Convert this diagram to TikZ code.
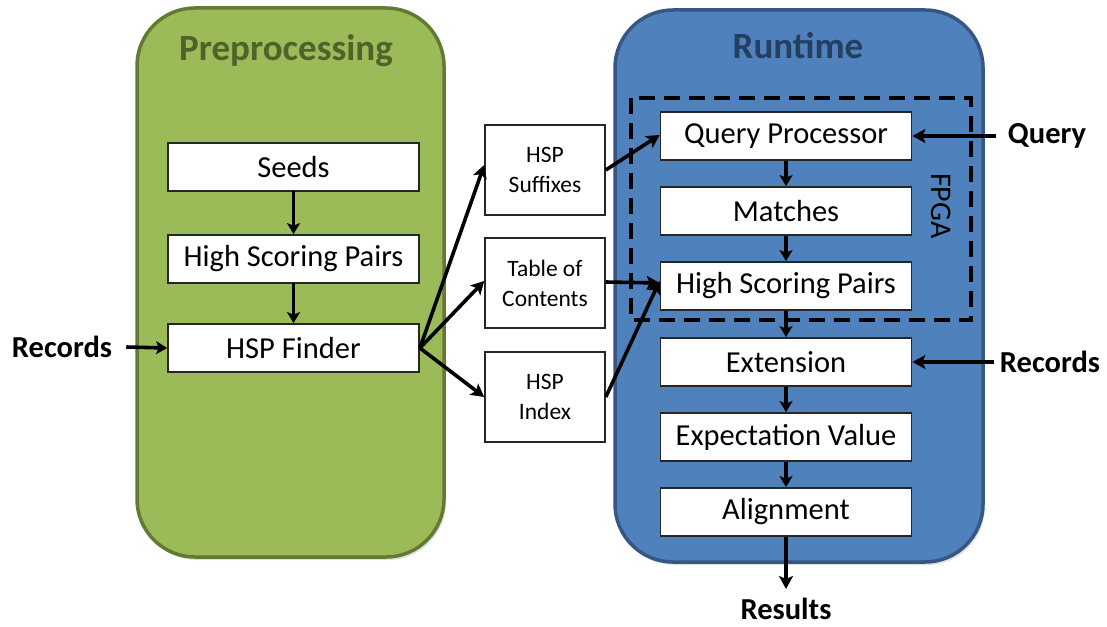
\documentclass[tikz,border=0pt]{standalone}
\usepackage{fontspec}
\setmainfont{Carlito}
\usetikzlibrary{arrows.meta,shadows}
\definecolor{grfill}{HTML}{9BBB59}
\definecolor{grline}{HTML}{637A33}
\definecolor{grtext}{HTML}{4F6228}
\definecolor{blfill}{HTML}{4F81BD}
\definecolor{blline}{HTML}{345783}
\definecolor{bltext}{HTML}{243F60}
\tikzset{
  panel/.style={rounded corners=58pt, line width=3.5pt},
  stagebox/.style={draw=black!85, fill=white, line width=1.8pt, minimum width=251pt, minimum height=48pt, inner sep=0pt, font=\fontsize{30.5}{34}\selectfont},
  databox/.style={draw=black!85, fill=white, line width=1.6pt, minimum width=120pt, minimum height=90pt, inner sep=0pt, align=center, font=\fontsize{23.5}{30}\selectfont},
  lbl/.style={font=\fontsize{30.5}{34}\selectfont\bfseries, inner sep=0pt},
  ttl/.style={font=\fontsize{37}{40}\selectfont\bfseries, inner sep=0pt},
  arr/.style={line width=3.6pt, -{Stealth[length=13pt,width=14pt,inset=3pt]}},
  sarr/.style={line width=3.6pt, -{Stealth[length=11pt,width=13pt,inset=2.5pt]}},
}
\begin{document}
\begin{tikzpicture}[x=1pt,y=-1pt]
\useasboundingbox (0,0) rectangle (1107,626);
% panels
\draw[panel, draw=grline, fill=grfill, drop shadow={opacity=0.25,shadow xshift=2pt,shadow yshift=-3pt}] (137,8) rectangle (444,557);
\draw[panel, draw=blline, fill=blfill, drop shadow={opacity=0.25,shadow xshift=2pt,shadow yshift=-3pt}] (615,10) rectangle (983,562);
\node[ttl, text=grtext] (tpre) at (286,51) {Preprocessing};
\node[ttl, text=bltext] (trun) at (798,46) {Runtime};
% FPGA dashed region
\draw[line width=4pt, dash pattern=on 16pt off 9pt] (631,98) rectangle (971,320);
\node[font=\fontsize{30}{34}\selectfont, rotate=-90, inner sep=0pt] (fpga) at (941,206) {FPGA};
% left stages
\node[stagebox] (seeds) at (293.5,167) {Seeds};
\node[stagebox] (hspl) at (293.5,259) {High Scoring Pairs};
\node[stagebox] (finder) at (293.5,348) {HSP Finder};
% data boxes
\node[databox] (suf) at (545,170) {HSP\\Suffixes};
\node[databox] (toc) at (545,283) {Table of\\Contents};
\node[databox] (idx) at (545,397) {HSP\\Index};
% right stages
\node[stagebox] (qp) at (786,136) {Query Processor};
\node[stagebox] (mat) at (786,211) {Matches};
\node[stagebox] (hspr) at (786,286) {High Scoring Pairs};
\node[stagebox] (ext) at (786,362) {Extension};
\node[stagebox] (ev) at (786,437) {Expectation Value};
\node[stagebox] (aln) at (786,512) {Alignment};
% labels
\node[lbl] (recl) at (62,347) {Records};
\node[lbl] (query) at (1047,136) {Query};
\node[lbl] (recr) at (1050,362) {Records};
\node[lbl] (res) at (786,609) {Results};
\coordinate (resend) at (786,589);
% arrows left
\draw[sarr] (recl.east) ++(14,0) coordinate (recla) -- (finder.west);
\draw[sarr] (seeds) ++(0,24) -- (hspl.north);
\draw[sarr] (hspl) ++(0,24) -- (finder.north);
\draw[arr] (finder.east) -- ([yshift=5pt]suf.west);
\draw[arr] (finder.east) -- ([yshift=2pt]toc.west);
\draw[arr] (finder.east) -- (idx.west);
% middle to right
\draw[arr] (suf.east) -- ([yshift=1pt]qp.west);
\draw[arr] ([yshift=1pt]toc.east) -- ([yshift=3pt]hspr.west);
\draw[arr] (idx.east) -- ([yshift=5pt]hspr.west);
% right chain
\draw[sarr] (qp.south) -- (mat.north);
\draw[sarr] (mat.south) -- (hspr.north);
\draw[sarr] (hspr.south) -- (ext.north);
\draw[sarr] (ext.south) -- (ev.north);
\draw[sarr] (ev.south) -- (aln.north);
\draw[arr] (aln.south) -- (resend);
\draw[arr] (query.west) ++(-12,0) -- (qp.east);
\draw[arr] (recr.west) ++(-6,0) -- (ext.east);
\end{tikzpicture}
\end{document}
